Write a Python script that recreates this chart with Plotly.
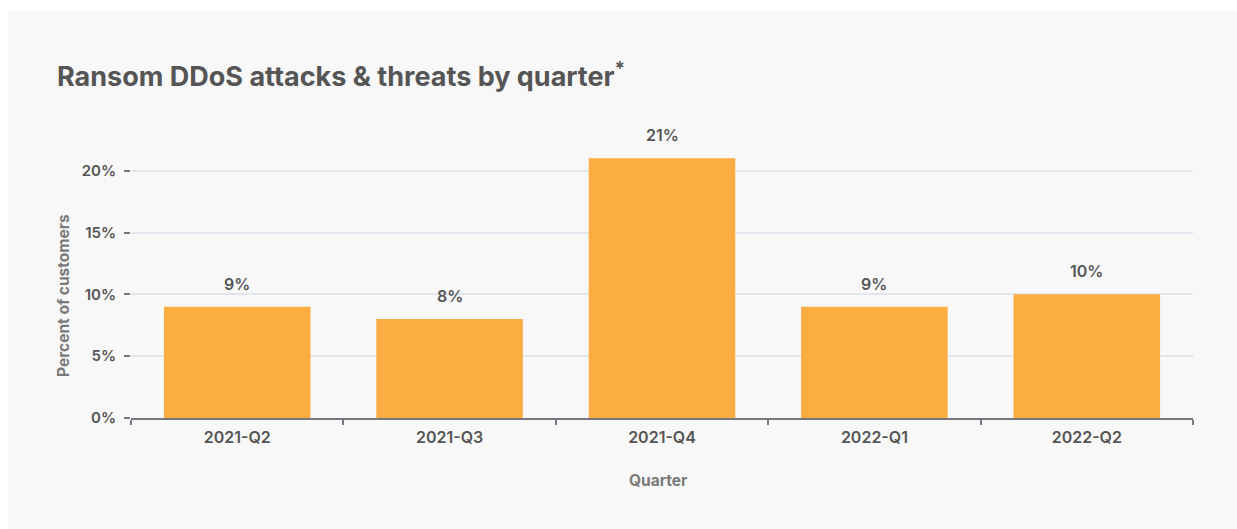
import plotly.graph_objects as go

# Share of customers reporting ransom DDoS attacks or threats, per quarter
quarters = ["2021-Q2", "2021-Q3", "2021-Q4", "2022-Q1", "2022-Q2"]
percent_customers = [9, 8, 21, 9, 10]
y_ticks = [0, 5, 10, 15, 20]
y_tick_labels = ["0%", "5%", "10%", "15%", "20%"]

W, H = 1237, 529
L, R, T, B = 131, 44, 146, 111
plot_w = W - L - R
plot_h = H - T - B

BAR = "#FBAD42"
TEXT = "#555555"
MUTED = "#7a7a7a"
FONT = "Inter"

fig = go.Figure(
    go.Bar(
        x=quarters,
        y=percent_customers,
        marker=dict(color=BAR, line=dict(width=0)),
        hoverinfo="skip",
    )
)

# value labels above each bar
for q, v in zip(quarters, percent_customers):
    fig.add_annotation(
        x=q, y=v, text=f"{v}%", showarrow=False,
        yanchor="middle", yshift=23,
        font=dict(family=FONT, size=16, color=TEXT, weight=600),
    )

# card background
fig.add_shape(
    type="rect", xref="paper", yref="paper", layer="below",
    x0=(8 - L) / plot_w, x1=(W + 5 - L) / plot_w,
    y0=-(B + 5) / plot_h, y1=(T + plot_h - 11) / plot_h,
    fillcolor="#f8f8f8", line=dict(width=0),
)

# axis titles
fig.add_annotation(
    xref="paper", yref="paper",
    x=(658 - L) / plot_w, y=-(480 - (T + plot_h)) / plot_h,
    text="Quarter", showarrow=False, xanchor="center", yanchor="middle",
    font=dict(family=FONT, size=15.5, color=MUTED, weight=700),
)
fig.add_annotation(
    xref="paper", yref="paper",
    x=(63 - L) / plot_w, y=(T + plot_h - 296) / plot_h,
    text="Percent of customers", showarrow=False, textangle=-90,
    xanchor="center", yanchor="middle",
    font=dict(family=FONT, size=15.5, color=MUTED, weight=700),
)

fig.update_layout(
    width=W, height=H,
    margin=dict(l=L, r=R, t=T, b=B),
    paper_bgcolor="white",
    plot_bgcolor="rgba(0,0,0,0)",
    bargap=0.31,
    showlegend=False,
    title=dict(
        text="Ransom DDoS attacks & threats by quarter<sup>*</sup>",
        x=57 / W, xanchor="left", xref="container",
        y=1 - 77 / H, yanchor="middle", yref="container",
        font=dict(family=FONT, size=27, color=TEXT, weight=700),
    ),
    xaxis=dict(
        showgrid=False,
        showline=True, linecolor="#76777e", linewidth=2,
        ticks="outside", tickson="boundaries", ticklen=5,
        tickcolor="#76777e", tickwidth=1.5,
        tickfont=dict(family=FONT, size=16, color=TEXT, weight=600),
        ticklabelstandoff=4,
        fixedrange=True,
    ),
    yaxis=dict(
        range=[0, 22],
        tickvals=y_ticks, ticktext=y_tick_labels,
        showgrid=True, gridcolor="#e4e6ef", gridwidth=1.5,
        zeroline=False, showline=False,
        ticks="outside", ticklen=6, tickcolor="#76777e", tickwidth=1.5,
        tickfont=dict(family=FONT, size=15, color=TEXT, weight=600),
        ticklabelstandoff=5,
        fixedrange=True,
    ),
)

fig.write_html("out.html")
